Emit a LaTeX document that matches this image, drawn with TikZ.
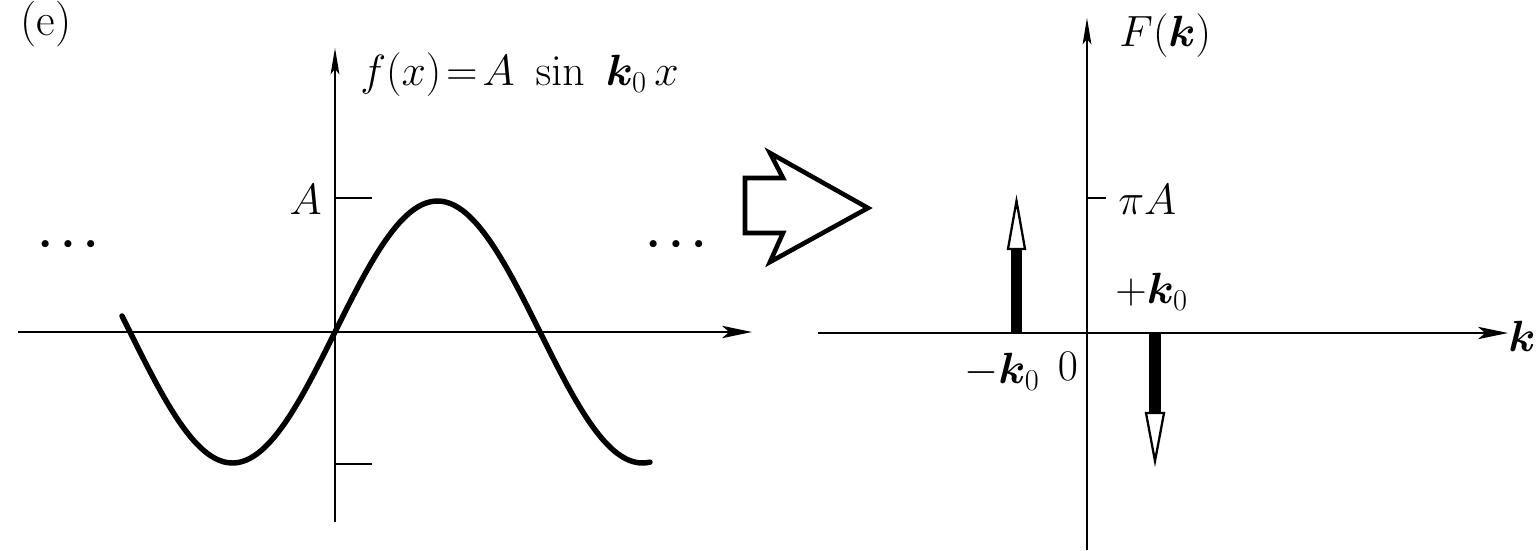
\documentclass[tikz,border=0pt]{standalone}
\usepackage{amsmath,bm}
\usetikzlibrary{arrows.meta}
\tikzset{
  lbl/.style={inner sep=0pt, font=\fontsize{26}{30}\selectfont},
  dots/.style={inner sep=0pt, font=\fontsize{18}{20}\selectfont},
  axis/.style={line width=1.3pt, -{Stealth[length=17pt,width=7pt,inset=4pt]}},
  vaxis/.style={line width=1.1pt, -{Stealth[length=15pt,width=5pt,inset=3pt]}},
  tick/.style={line width=1.3pt},
  curve/.style={line width=3.1pt, line cap=round, line join=round},
  shaft/.style={fill=black},
  headw/.style={draw=black, fill=white, line width=1.3pt, line join=miter},
  bigarrow/.style={draw=black, fill=white, line width=2.6pt, line join=miter}
}
\begin{document}
\begin{tikzpicture}[x=0.02cm,y=-0.02cm]
\useasboundingbox (0,0) rectangle (1536,551);
% ---------- left plot ----------
\coordinate (lxa) at (18,332);
\coordinate (lxb) at (752,332);
\coordinate (lya) at (335,522);
\coordinate (lyb) at (335,48);
\draw[axis] (lxa) -- (lxb);
\draw[vaxis] (lya) -- (lyb);
\coordinate (tA1) at (335,198);
\coordinate (tA2) at (372,198);
\coordinate (tB1) at (335,464);
\coordinate (tB2) at (372,464);
\draw[tick] (tA1) -- (tA2);
\draw[tick] (tB1) -- (tB2);
\node[lbl, anchor=east] (lA) at (322,200) {$A$};
\node[lbl, anchor=west] (fx) at (360,75) {$f(x)\!=\!A\ \sin\ \bm{k}_0\, x$};
\node[lbl] (e) at (46,24) {(e)};
\node[dots] (dl) at (68,247) {\textbullet\textbullet\textbullet};
\node[dots] (dr) at (676,247) {\textbullet\textbullet\textbullet};
\draw[curve] plot[domain=122:650, samples=120, smooth] (\x, {332-131*sin((\x-335)*0.87805)});
% ---------- transform arrow ----------
\draw[bigarrow] (745,178) -- (783,178) -- (770,153) -- (868,208) -- (770,262) -- (783,233) -- (745,233) -- cycle;
% ---------- right plot ----------
\coordinate (rxa) at (818,333);
\coordinate (rxb) at (1508,333);
\coordinate (rya) at (1087,550);
\coordinate (ryb) at (1087,18);
\draw[axis] (rxa) -- (rxb);
\draw[vaxis] (rya) -- (ryb);
\coordinate (tP1) at (1087,198);
\coordinate (tP2) at (1106,198);
\draw[tick] (tP1) -- (tP2);
\node[lbl, anchor=west] (Fk) at (1119,36) {$F(\bm{k})$};
\node[lbl, anchor=west] (piA) at (1118,200) {$\pi A$};
\node[lbl, anchor=west] (pk) at (1115,292) {$+\bm{k}_0$};
\node[lbl] (mk) at (1002,372) {$-\bm{k}_0$};
\node[lbl] (zero) at (1068,366) {$0$};
\node[lbl] (kk) at (1522,336) {$\bm{k}$};
% impulses
\fill[shaft] (1011,333) rectangle (1022,249);
\draw[headw] (1008,249) -- (1025,249) -- (1016.5,201) -- cycle;
\fill[shaft] (1149,333) rectangle (1161,413);
\draw[headw] (1146,413) -- (1164,413) -- (1155,461) -- cycle;
\end{tikzpicture}
\end{document}
